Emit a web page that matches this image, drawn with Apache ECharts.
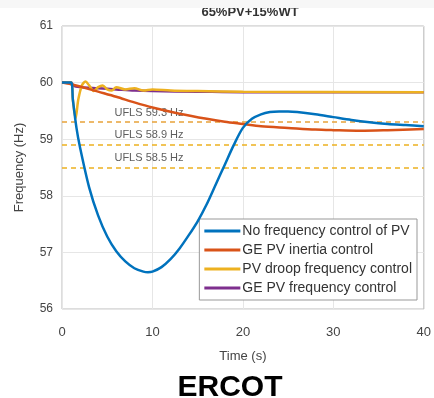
<!DOCTYPE html>
<html><head><meta charset="utf-8">
<script src="https://cdn.jsdelivr.net/npm/echarts@6/dist/echarts.min.js"></script>
<style>html,body{margin:0;padding:0;background:#fff}#c{width:434px;height:398px}</style>
</head><body><div id="c"></div>
<script>
const titleTop = '65%PV+15%WT';
const titleBottom = 'ERCOT';
const xTicks = [0, 10, 20, 30, 40];
const yTicks = [56, 57, 58, 59, 60, 61];
const seriesNames = ['No frequency control of PV', 'GE PV inertia control', 'PV droop frequency control', 'GE PV frequency control'];

const tBlue = [0,1,1.2,1.6,2,3,4,5,6,7,8,9,9.5,10,11,12,13,14,15,16,17,18,19,20,21,22,23,24,25,26,28,30,32,34,36,38,40];
const vBlue = [60,60,59.7,59.2,58.85,58.15,57.65,57.28,57.02,56.84,56.72,56.66,56.65,56.66,56.74,56.88,57.07,57.3,57.55,57.85,58.2,58.55,58.9,59.2,59.36,59.44,59.48,59.49,59.49,59.48,59.44,59.39,59.34,59.3,59.27,59.25,59.23];

const tOrange = [0,1,2,4,6,8,10,13,16,18,20,22,25,28,30,33,36,40];
const vOrange = [60,59.97,59.93,59.84,59.75,59.65,59.56,59.45,59.36,59.31,59.27,59.23,59.2,59.17,59.16,59.15,59.16,59.18];

const tYellow = [0,1,1.2,1.5,1.8,2.2,2.6,3.0,3.5,4,4.5,5,5.5,6,7,8,9,10,12,15,20,40];
const vYellow = [60,60,59.7,59.37,59.7,59.95,60.02,59.95,59.85,59.92,59.95,59.88,59.86,59.92,59.88,59.9,59.86,59.88,59.86,59.85,59.84,59.83];

const tPurple = [0,1,1.3,2,4,6,8,10,15,20,40];
const vPurple = [60,60,59.94,59.92,59.9,59.88,59.86,59.85,59.84,59.83,59.83];

const uflsLevels = [59.3, 58.9, 58.5];
const uflsLabels = ['UFLS 59.3 Hz', 'UFLS 58.9 Hz', 'UFLS 58.5 Hz'];
const uflsLabelX = 5.8;

const colors = ['#0072BD', '#D95319', '#EDB120', '#7E2F8E'];
const zip = (t, v) => t.map((x, i) => [x, v[i]]);
const font = 'Liberation Sans, Arial';

const chart = echarts.init(document.getElementById('c'));
const lineSeries = [
  [tBlue, vBlue], [tOrange, vOrange], [tYellow, vYellow], [tPurple, vPurple]
].map((d, i) => ({
  name: seriesNames[i], type: 'line', data: zip(d[0], d[1]), showSymbol: false,
  smooth: 0.3, lineStyle: { color: colors[i], width: 2.5 }, itemStyle: { color: colors[i] },
  z: 10 - i
}));
lineSeries.push({
  type: 'line', data: [], silent: true,
  markLine: {
    symbol: 'none', silent: true,
    label: { show: false },
    lineStyle: { type: [5, 4], width: 1.5 },
    data: uflsLevels.map((y, i) => ({ yAxis: y, lineStyle: { color: i === 0 ? '#E8A33A' : '#EDB120' } }))
  }
});
lineSeries.push({
  type: 'scatter', silent: true, symbolSize: 0,
  data: uflsLevels.map((y, i) => ({ value: [uflsLabelX, y], name: uflsLabels[i] })),
  label: { show: true, position: 'top', distance: 4, formatter: p => p.name, color: '#333', fontSize: 11, fontFamily: font, align: 'left' }
});

chart.setOption({
  backgroundColor: '#fff',
  animation: false,
  title: [
    { text: titleTop, left: 245, top: 1, textAlign: 'center', textStyle: { fontSize: 13, fontWeight: 'bold', color: '#333', fontFamily: font } },
    { text: titleBottom, left: 225, top: 368, textAlign: 'center', textStyle: { fontSize: 30, fontWeight: 'bold', color: '#000', fontFamily: font } }
  ],
  graphic: [
    { type: 'rect', left: 0, top: 0, z: 100, shape: { width: 434, height: 8 }, style: { fill: '#f7f7f7' } }
  ],
  grid: { left: 62, right: 6, top: 26, bottom: 89, show: true, borderColor: '#bbb', borderWidth: 1, backgroundColor: '#fff' },
  legend: {
    orient: 'vertical', right: 17, top: 219, itemWidth: 36, itemHeight: 3, itemGap: 5,
    backgroundColor: '#fff', borderColor: '#999', borderWidth: 1, padding: [5, 5, 5, 5],
    textStyle: { fontSize: 14, color: '#333', fontFamily: font, padding: [0, 0, 0, -3] },
    data: seriesNames.map((n, i) => ({ name: n, icon: 'rect', itemStyle: { color: colors[i] } }))
  },
  xAxis: {
    type: 'value', min: 0, max: 40, interval: 10,
    name: 'Time (s)', nameLocation: 'middle', nameGap: 41,
    nameTextStyle: { fontSize: 13, color: '#444', fontFamily: font },
    axisLine: { show: false }, axisTick: { show: false },
    axisLabel: { fontSize: 13, color: '#444', margin: 17, fontFamily: font, formatter: v => xTicks.includes(v) ? String(v) : '' },
    splitLine: { show: true, lineStyle: { color: '#e6e6e6' } }
  },
  yAxis: {
    type: 'value', min: 56, max: 61, interval: 1,
    name: 'Frequency (Hz)', nameLocation: 'middle', nameGap: 36, nameRotate: 90,
    nameTextStyle: { fontSize: 13, color: '#444', fontFamily: font },
    axisLine: { show: false }, axisTick: { show: false },
    axisLabel: { fontSize: 12, color: '#444', margin: 9, fontFamily: font, formatter: v => yTicks.includes(v) ? String(v) : '' },
    splitLine: { show: true, lineStyle: { color: '#e6e6e6' } }
  },
  series: lineSeries
});
</script></body></html>
